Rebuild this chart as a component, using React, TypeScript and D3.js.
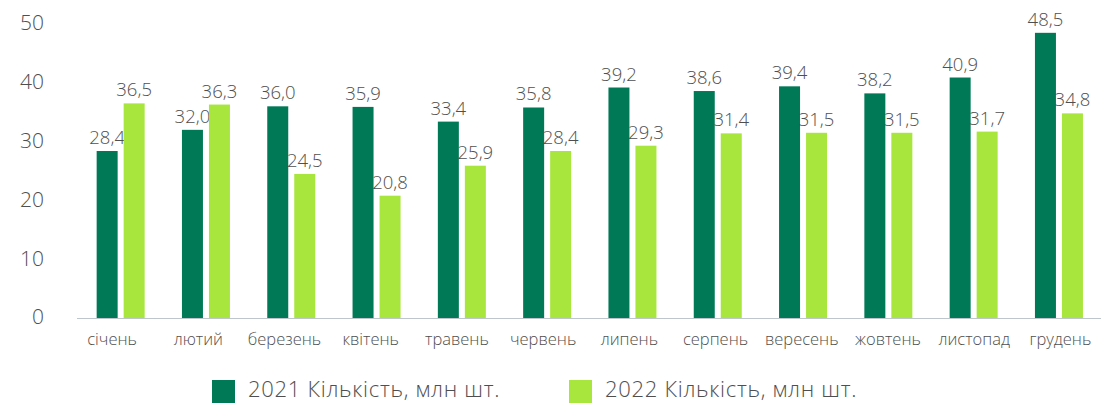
import React from "react";
import * as d3 from "d3";

const categories = ["січень", "лютий", "березень", "квітень", "травень", "червень", "липень", "серпень", "вересень", "жовтень", "листопад", "грудень"];
const values2021 = [28.4, 32.0, 36.0, 35.9, 33.4, 35.8, 39.2, 38.6, 39.4, 38.2, 40.9, 48.5];
const values2022 = [36.5, 36.3, 24.5, 20.8, 25.9, 28.4, 29.3, 31.4, 31.5, 31.5, 31.7, 34.8];
const seriesNames = ["2021 Кількість, млн шт.", "2022 Кількість, млн шт."];
const yTicks = [0, 10, 20, 30, 40, 50];

const W = 1101, H = 404;
const C1 = "#007A56", C2 = "#A8E63E";
const TXT = "#4F4F4F";
const FONT = "'Open Sans', 'Noto Sans', sans-serif";

export default function App() {
  const x = d3.scaleBand<string>().domain(categories).range([78, 1101.6]);
  const xl = d3.scaleBand<string>().domain(categories).range([69, 1103.5]);
  const y = d3.scaleLinear().domain([0, 50]).range([318, 24]);
  const barW = 21, gap = 6;
  const fmt = (v: number) => v.toFixed(1).replace(".", ",");
  const series = [values2021, values2022];
  const colors = [C1, C2];
  return (
    <svg width={W} height={H} style={{ position: "absolute", left: 0, top: 0, fontFamily: FONT }}>
      {yTicks.map((t) => (
        <text key={t} x={44} y={y(t) - 1} dy="0.35em" textAnchor="end" fontSize={21} fill={TXT} fontWeight={300}>{t}</text>
      ))}
      {categories.map((c, i) => {
        const cx = x(c)! + x.bandwidth() / 2;
        return (
          <g key={c}>
            {series.map((s, k) => {
              const bx = k === 0 ? cx - gap / 2 - barW : cx + gap / 2;
              return (
                <g key={k}>
                  <rect x={bx} y={y(s[i])} width={barW} height={y(0) - y(s[i])} fill={colors[k]} />
                  <text x={bx + barW / 2} y={y(s[i]) - 7} textAnchor="middle" fontSize={18.5} fill={TXT} fontWeight={300}>{fmt(s[i])}</text>
                </g>
              );
            })}
            <text x={xl(c)! + xl.bandwidth() / 2} y={339} dy="0.35em" textAnchor="middle" fontSize={16.5} fill={TXT} fontWeight={300}>{c}</text>
          </g>
        );
      })}
      <line x1={77} x2={1101} y1={318.5} y2={318.5} stroke="#BFC5CC" strokeWidth={1} />
      {seriesNames.map((n, k) => {
        const lx = k === 0 ? 212 : 569;
        return (
          <g key={n}>
            <rect x={lx} y={380} width={23} height={23} fill={colors[k]} />
            <text x={lx + 36} y={389.5} dy="0.35em" fontSize={22} letterSpacing={0.7} fill={TXT} fontWeight={300}>{n}</text>
          </g>
        );
      })}
    </svg>
  );
}
